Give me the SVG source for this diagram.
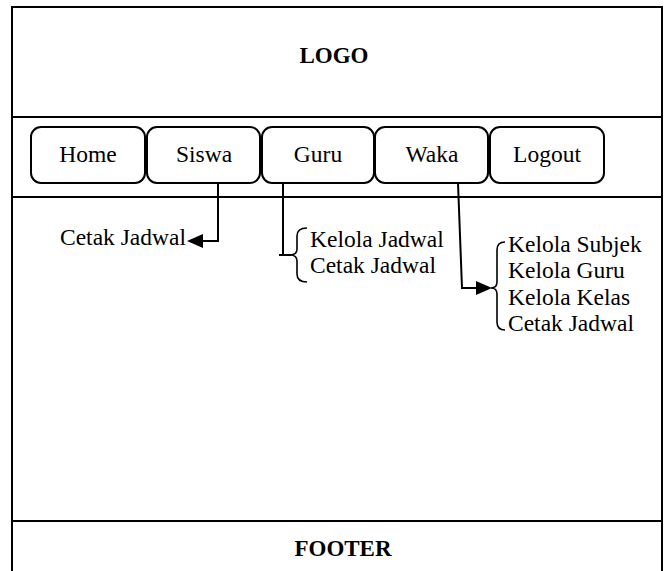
<svg xmlns="http://www.w3.org/2000/svg" width="670" height="571" viewBox="0 0 670 571">
<style>
.frame{fill:none;stroke:#000;stroke-width:2}
.btn{fill:#fff;stroke:#000;stroke-width:2}
.t{font-family:"Liberation Serif","Times New Roman",serif;font-size:23.5px;fill:#000}
.b{font-family:"Liberation Serif","Times New Roman",serif;font-size:23px;font-weight:bold;fill:#000}
.ln{fill:none;stroke:#000;stroke-width:2}
.br{fill:none;stroke:#000;stroke-width:1.6}
</style>
<rect width="670" height="571" fill="#fff"/>
<g id="frame">
<rect class="frame" x="12" y="7" width="650" height="570"/>
<line class="frame" x1="12" y1="117" x2="662" y2="117"/>
<line class="frame" x1="12" y1="197" x2="662" y2="197"/>
<line class="frame" x1="12" y1="521" x2="662" y2="521"/>
</g>
<g id="logo"><text class="b" x="334" y="63" text-anchor="middle">LOGO</text></g>
<g id="footer"><text class="b" x="343" y="556" text-anchor="middle">FOOTER</text></g>
<g id="home"><rect class="btn" x="31" y="127" width="114" height="56" rx="10"/><text class="t" x="88" y="162" text-anchor="middle">Home</text></g>
<g id="siswa"><rect class="btn" x="147" y="127" width="113" height="56" rx="10"/><text class="t" x="204" y="162" text-anchor="middle">Siswa</text></g>
<g id="guru"><rect class="btn" x="262" y="127" width="112" height="56" rx="10"/><text class="t" x="318" y="162" text-anchor="middle">Guru</text></g>
<g id="waka"><rect class="btn" x="375" y="127" width="113" height="56" rx="10"/><text class="t" x="432" y="162" text-anchor="middle">Waka</text></g>
<g id="logout"><rect class="btn" x="490" y="127" width="114" height="56" rx="10"/><text class="t" x="547" y="162" text-anchor="middle">Logout</text></g>
<g id="siswa-menu"><text class="t" x="60" y="245">Cetak Jadwal</text></g>
<g id="guru-menu">
<path class="br" d="M307 228 Q297 228 297 236 L297 249 Q297 255 290 255 Q297 255 297 261 L297 274 Q297 282 307 282"/>
<text class="t" x="310" y="247">Kelola Jadwal</text>
<text class="t" x="310" y="273">Cetak Jadwal</text>
</g>
<g id="waka-menu">
<path class="br" d="M505 242 Q497 242 497 250 L497 282 Q497 288 491 288 Q497 288 497 294 L497 322 Q497 330 505 330"/>
<text class="t" x="508" y="252">Kelola Subjek</text>
<text class="t" x="508" y="278">Kelola Guru</text>
<text class="t" x="508" y="305">Kelola Kelas</text>
<text class="t" x="508" y="331">Cetak Jadwal</text>
</g>
<g id="connectors">
<polyline class="ln" points="218,183 218,241 200,241"/>
<polygon points="187,241 203,234 203,248" fill="#000"/>
<polyline class="ln" points="283,183 283,255 279,255"/>
<line class="ln" x1="279" y1="255" x2="291" y2="255"/>
<polyline class="ln" points="458,183 462,288 478,288"/>
<polygon points="492,288 476,281 476,295" fill="#000"/>
</g>
</svg>
